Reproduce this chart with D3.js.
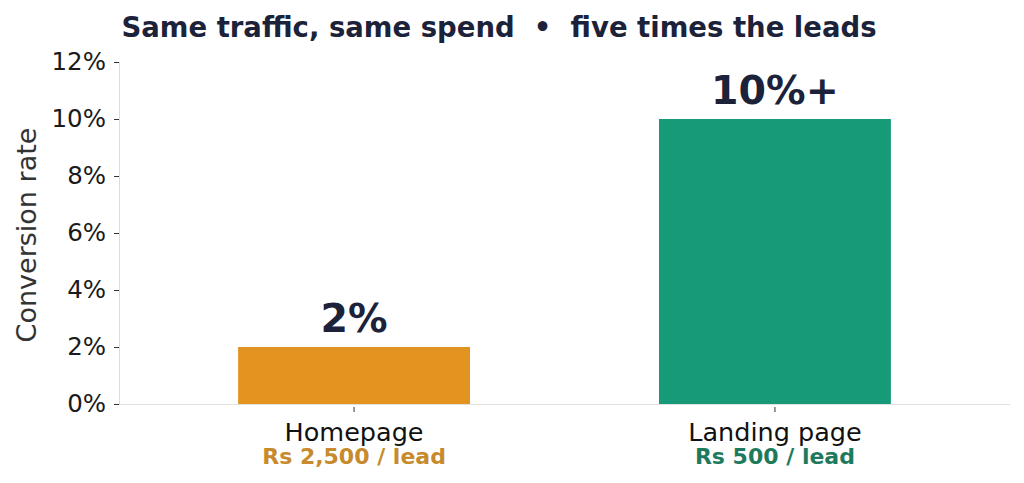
<!DOCTYPE html>
<html>
<head>
<meta charset="utf-8">
<script src="https://cdn.jsdelivr.net/npm/d3@7"></script>
<style>
  body { margin: 0; background: #fff; }
  svg text { font-family: "DejaVu Sans", sans-serif; }
</style>
</head>
<body>
<svg id="chart" width="1024" height="483"></svg>
<script>
// 資料
const categories = ['Homepage', 'Landing page'];
const rates = [2, 10];
const valueLabels = ['2%', '10%+'];
const costLabels = ['Rs 2,500 / lead', 'Rs 500 / lead'];
const yTicks = [0, 2, 4, 6, 8, 10, 12];

const barColors = ['#E39420', '#179A78'];
const costColors = ['#C78A2C', '#1E7A5C'];
const navy = '#1B2239';

const svg = d3.select('#chart');

const x = d3.scaleBand()
  .domain(categories)
  .range([119, 1010])
  .paddingInner(0.449)
  .paddingOuter(0.283);

const y = d3.scaleLinear()
  .domain([0, 12])
  .range([404, 62]);

// 標題
svg.append('text')
  .attr('x', 499)
  .attr('y', 37)
  .attr('text-anchor', 'middle')
  .attr('font-size', '27.5px')
  .attr('font-weight', 'bold')
  .attr('fill', navy)
  .text('Same traffic, same spend  \u2022  five times the leads')
  .attr('xml:space', 'preserve')
  .style('white-space', 'pre');

// 長條
svg.selectAll('rect.bar')
  .data(rates)
  .enter()
  .append('rect')
  .attr('class', 'bar')
  .attr('x', (d, i) => x(categories[i]))
  .attr('width', x.bandwidth())
  .attr('y', d => y(d))
  .attr('height', d => y(0) - y(d))
  .attr('fill', (d, i) => barColors[i]);

// y 軸
const yAxis = svg.append('g')
  .attr('transform', 'translate(119,0)')
  .call(d3.axisLeft(y).tickValues(yTicks).tickFormat(d => d + '%').tickSize(5).tickPadding(8));
yAxis.select('.domain').attr('stroke', '#dddddd').attr('d', `M0.5,${y(12)}V${y(0)}`);
yAxis.selectAll('.tick line').attr('stroke', '#333');
yAxis.selectAll('.tick text')
  .attr('font-size', '24.5px')
  .attr('fill', '#1a1a1a')
  .attr('font-family', '"DejaVu Sans", sans-serif');

// x 軸
const xAxis = svg.append('g')
  .attr('transform', 'translate(0,404)')
  .call(d3.axisBottom(x).tickSize(5).tickFormat(''));
xAxis.select('.domain').attr('stroke', '#e0e0e0').attr('d', 'M119,0.5H1010');
xAxis.selectAll('.tick line').attr('stroke', '#333').attr('transform', 'translate(0,3)');

// 類別文字
svg.selectAll('text.cat')
  .data(categories)
  .enter()
  .append('text')
  .attr('class', 'cat')
  .attr('x', d => x(d) + x.bandwidth() / 2)
  .attr('y', 441)
  .attr('text-anchor', 'middle')
  .attr('font-size', '25.5px')
  .attr('fill', '#111')
  .text(d => d);

svg.selectAll('text.cost')
  .data(costLabels)
  .enter()
  .append('text')
  .attr('class', 'cost')
  .attr('x', (d, i) => x(categories[i]) + x.bandwidth() / 2)
  .attr('y', 464)
  .attr('text-anchor', 'middle')
  .attr('font-size', '22px')
  .attr('font-weight', 'bold')
  .attr('fill', (d, i) => costColors[i])
  .text(d => d);

// 數值標籤
svg.selectAll('text.val')
  .data(rates)
  .enter()
  .append('text')
  .attr('class', 'val')
  .attr('x', (d, i) => x(categories[i]) + x.bandwidth() / 2)
  .attr('y', d => y(d) - 15)
  .attr('text-anchor', 'middle')
  .attr('font-size', '39.5px')
  .attr('font-weight', 'bold')
  .attr('fill', navy)
  .text((d, i) => valueLabels[i]);

// y 軸標題
svg.append('text')
  .attr('transform', 'translate(36,235) rotate(-90)')
  .attr('text-anchor', 'middle')
  .attr('font-size', '27px')
  .attr('fill', '#333')
  .text('Conversion rate');
</script>
</body>
</html>
